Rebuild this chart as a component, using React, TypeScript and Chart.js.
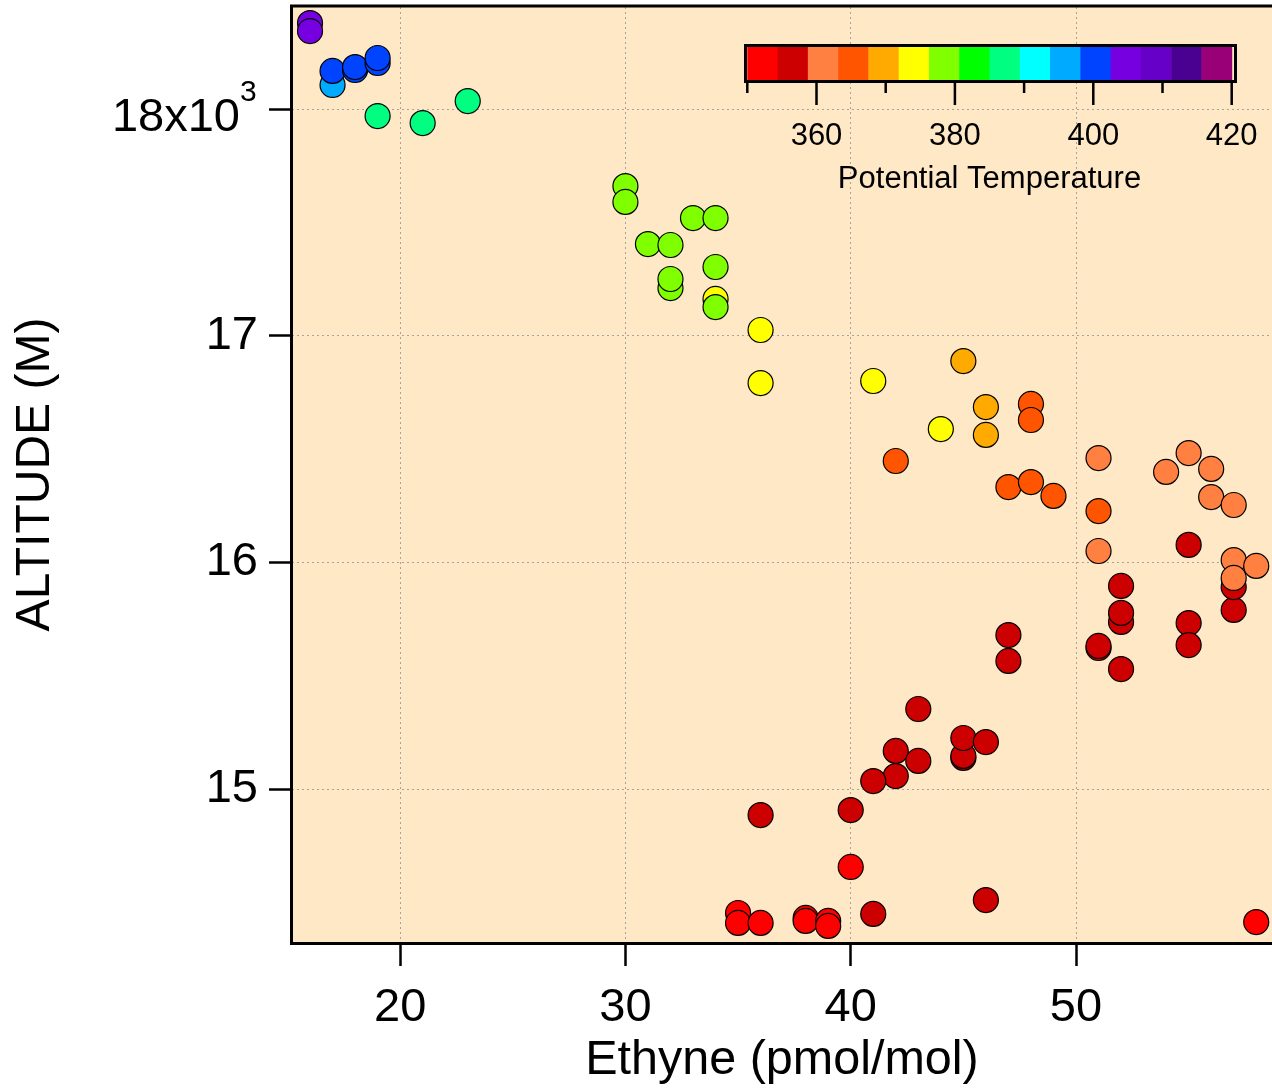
import React, { useEffect, useRef } from "react";
import { Chart, registerables } from "chart.js";

Chart.register(...registerables);

// ---- data ----
const ethyne = [
  16, 16, 17, 17, 18, 18, 19, 19, 19, 21, 23,
  30, 30, 31, 32, 33, 34, 32, 32, 34, 34, 34,
  36, 36, 41, 44, 45, 46, 46,
  48, 48, 42, 47, 48, 49, 51,
  51, 51, 54, 55, 56, 56, 57,
  55, 52, 52, 52, 52, 51, 51, 55, 55,
  57, 57, 57, 57, 58,
  47, 47, 43, 42, 42, 43, 41, 45, 45, 45, 46,
  36, 40, 40, 46, 41, 35, 35, 36, 38, 38, 39, 39, 58,
];

const altitude = [
  18379, 18344, 18106, 18168, 18172, 18185, 18203, 18225, 17969, 17938, 18035,
  17660, 17590, 17404, 17400, 17519, 17519, 17210, 17250, 17303, 17162, 17126,
  17025, 16791, 16800, 16588, 16888, 16685, 16562,
  16699, 16628, 16447, 16332, 16354, 16293, 16226,
  16460, 16050, 16399, 16482, 16412, 16288, 16253,
  16077, 15896, 15737, 15777, 15529, 15622, 15631, 15732, 15635,
  15790, 15891, 16010, 15931, 15984,
  15679, 15565, 15353, 15168, 15057, 15124, 15035, 15137, 15146, 15225, 15207,
  14885, 14907, 14656, 14510, 14449, 14453, 14409, 14409, 14431, 14418, 14418, 14396, 14413,
];

const theta = [
  404, 404, 396, 400, 400, 400, 400, 400, 387, 387, 387,
  378, 378, 378, 378, 378, 378, 378, 378, 378, 374, 378,
  374, 374, 374, 374, 370, 370, 370,
  365, 365, 365, 365, 365, 365, 365,
  361, 361, 361, 361, 361, 361, 361,
  356, 356, 356, 356, 356, 356, 356, 356, 356,
  356, 356, 361, 361, 361,
  356, 356, 356, 356, 356, 356, 356, 356, 356, 356, 356,
  356, 356, 352, 356, 356, 352, 352, 352, 352, 352, 352, 352, 352,
];

const xTicks = [20, 30, 40, 50];
const yTicks = [15000, 16000, 17000, 18000];

const cbarColors = [
  "#FF0000", "#CC0000", "#FF8040", "#FF5500", "#FFAA00", "#FFFF00",
  "#80FF00", "#00FF00", "#00FF80", "#00FFFF", "#00AAFF", "#0044FF",
  "#7700E0", "#6600C8", "#4A0090", "#990077",
];
const cbarMin = 350;
const cbarMax = 420;
const cbarMajor = [360, 380, 400, 420];
const cbarMinor = [350, 370, 390, 410];

const FONT = "'Liberation Sans', Arial, Helvetica, sans-serif";
const PLOT_BG = "#FEE8C5";

function colorFor(t: number): string {
  const n = cbarColors.length;
  let i = Math.floor(((t - cbarMin) / (cbarMax - cbarMin)) * n);
  if (i < 0) i = 0;
  if (i > n - 1) i = n - 1;
  return cbarColors[i];
}

function zeroPad(s: any) {
  s.paddingTop = 0;
  s.paddingBottom = 0;
  s.paddingLeft = 0;
  s.paddingRight = 0;
}

const decorPlugin = {
  id: "decor",
  beforeDraw(chart: any) {
    const { ctx, chartArea: a } = chart;
    ctx.save();
    ctx.fillStyle = "#FFFFFF";
    ctx.fillRect(0, 0, chart.width, chart.height);
    ctx.fillStyle = PLOT_BG;
    ctx.fillRect(a.left, a.top, a.right - a.left, a.bottom - a.top);
    ctx.restore();
  },
  afterDraw(chart: any) {
    const { ctx, chartArea: a } = chart;
    const yScale = chart.scales.y;
    ctx.save();
    // frame: left, bottom, top
    ctx.strokeStyle = "#000";
    ctx.lineWidth = 3;
    ctx.beginPath();
    ctx.moveTo(a.left - 0.5, a.top - 1);
    ctx.lineTo(a.left - 0.5, a.bottom + 1.5);
    ctx.lineTo(a.right, a.bottom + 1.5);
    ctx.moveTo(a.left - 2, a.top - 1);
    ctx.lineTo(a.right, a.top - 1);
    ctx.stroke();

    // 18x10^3 label
    const y18 = yScale.getPixelForValue(18000);
    ctx.fillStyle = "#000";
    ctx.font = `47px ${FONT}`;
    ctx.textAlign = "right";
    ctx.textBaseline = "middle";
    ctx.fillText("18x10", 240, y18 + 9);
    ctx.font = `30px ${FONT}`;
    ctx.textAlign = "left";
    ctx.fillText("3", 240, y18 - 16);

    // colour bar
    const x0 = 747.3;
    const x1 = 1231.7;
    const top = 46;
    const bot = 81;
    const px = (v: number) => x0 + ((v - cbarMin) / (cbarMax - cbarMin)) * (x1 - x0);
    const n = cbarColors.length;
    for (let i = 0; i < n; i++) {
      const l = px(cbarMin + ((cbarMax - cbarMin) * i) / n);
      const r = px(cbarMin + ((cbarMax - cbarMin) * (i + 1)) / n);
      ctx.fillStyle = cbarColors[i];
      ctx.fillRect(l, top, r - l + 0.5, bot - top);
    }
    ctx.strokeStyle = "#000";
    ctx.lineWidth = 3;
    ctx.strokeRect(745.5, 45.5, 490, 36);
    ctx.lineWidth = 2.5;
    ctx.beginPath();
    for (const v of cbarMinor) {
      ctx.moveTo(px(v), 83);
      ctx.lineTo(px(v), 93);
    }
    for (const v of cbarMajor) {
      ctx.moveTo(px(v), 83);
      ctx.lineTo(px(v), 105);
    }
    ctx.stroke();
    ctx.fillStyle = "#000";
    ctx.font = `31px ${FONT}`;
    ctx.textAlign = "center";
    ctx.textBaseline = "middle";
    for (const v of cbarMajor) {
      ctx.fillText(String(v), px(v), 136);
    }
    ctx.fillText("Potential Temperature", (x0 + x1) / 2, 179);
    ctx.restore();
  },
};

export default function App() {
  const ref = useRef<HTMLCanvasElement | null>(null);

  useEffect(() => {
    document.body.style.margin = "0";
    const canvas = ref.current;
    if (!canvas) return;
    const chart = new Chart(canvas, {
      type: "scatter",
      data: {
        datasets: [
          {
            data: ethyne.map((x, i) => ({ x, y: altitude[i] })),
            backgroundColor: theta.map(colorFor),
            borderColor: "#000000",
            borderWidth: 1.2,
            pointRadius: 12.5,
            pointHoverRadius: 12.5,
            clip: false,
          } as any,
        ],
      },
      options: {
        responsive: false,
        animation: false,
        devicePixelRatio: 1,
        layout: { autoPadding: false, padding: { top: 7, right: 0, bottom: 0, left: 0 } },
        plugins: {
          legend: { display: false },
          tooltip: { enabled: false },
        },
        events: [],
        scales: {
          x: {
            type: "linear",
            min: 15.2,
            max: 58.7,
            afterBuildTicks: (s: any) => {
              s.ticks = xTicks.map((v) => ({ value: v }));
            },
            afterFit: (s: any) => {
              s.height = 149;
              zeroPad(s);
            },
            grid: {
              color: "#A8A29A",
              lineWidth: 1,
              drawTicks: true,
              tickLength: 24,
              tickColor: "#000",
              tickWidth: 2.5,
              tickBorderDash: [],
            },
            border: { display: false, dash: [2, 3] },
            ticks: {
              color: "#000",
              font: { size: 47, family: FONT },
              padding: 14,
              maxRotation: 0,
              callback: (v: any) => String(v),
            },
            title: {
              display: true,
              text: "Ethyne (pmol/mol)",
              color: "#000",
              font: { size: 48.5, family: FONT },
              padding: { top: 0, bottom: 1 },
            },
          } as any,
          y: {
            type: "linear",
            min: 14325,
            max: 18450,
            afterBuildTicks: (s: any) => {
              s.ticks = yTicks.map((v) => ({ value: v }));
            },
            afterFit: (s: any) => {
              s.width = 292;
              zeroPad(s);
            },
            grid: {
              color: "#A8A29A",
              lineWidth: 1,
              drawTicks: true,
              tickLength: 23,
              tickColor: "#000",
              tickWidth: 2.5,
              tickBorderDash: [],
            },
            border: { display: false, dash: [2, 3] },
            ticks: {
              color: "#000",
              font: { size: 47, family: FONT },
              padding: 11,
              callback: (v: any) => (v === 18000 ? "" : String(v / 1000)),
            },
            title: {
              display: true,
              text: "ALTITUDE (M)",
              color: "#000",
              font: { size: 48, family: FONT },
              padding: { top: 7, bottom: 0 },
            },
          } as any,
        },
      },
      plugins: [decorPlugin],
    });
    return () => chart.destroy();
  }, []);

  return (
    <div style={{ width: 1272, height: 1091 }}>
      <canvas ref={ref} width={1272} height={1091} style={{ display: "block" }} />
    </div>
  );
}
